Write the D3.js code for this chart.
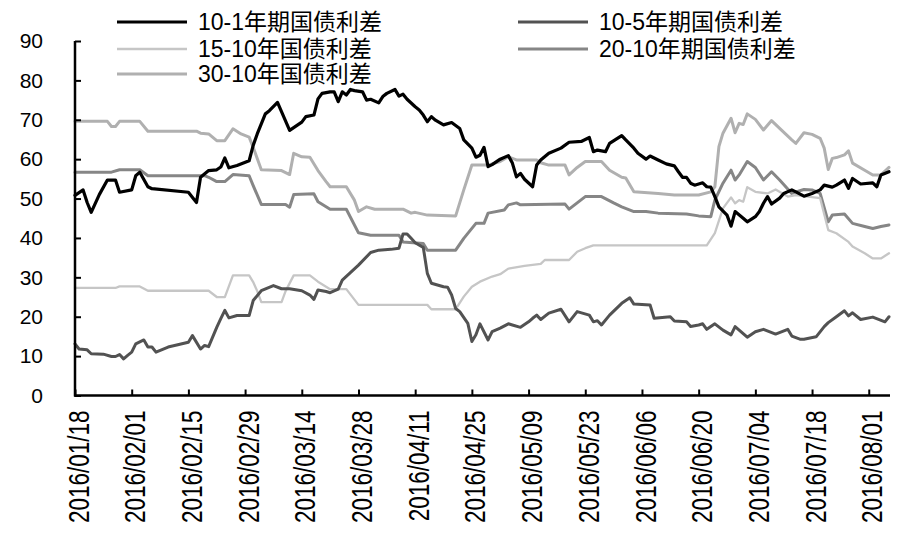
<!DOCTYPE html>
<html><head><meta charset="utf-8">
<script src="https://cdn.jsdelivr.net/npm/d3@7"></script>
<style>body{margin:0;background:#fff}svg{display:block}</style>
</head><body>
<svg id="c" width="900" height="537"></svg>
<script>
// ---- data ----
const seriesNames = ["10-1年期国债利差","10-5年期国债利差","15-10年国债利差","20-10年期国债利差","30-10年国债利差"];
const yTicks = [0,10,20,30,40,50,60,70,80,90];
const xTickDates = ["01-18","02-01","02-15","02-29","03-14","03-28","04-11","04-25","05-09","05-23","06-06","06-20","07-04","07-18","08-01"];

const s10_1 = [["01-18",50.8],["01-20",52.2],["01-21",49],["01-22",46.5],["01-24",51],["01-26",54.7],["01-28",54.7],["01-29",51.6],
["02-01",52.2],["02-02",55.8],["02-03",56.7],["02-05",53],["02-06",52.5],["02-15",51.6],["02-17",49],["02-18",55.4],["02-20",57.1],
["02-22",57.3],["02-23",58],["02-24",60.3],["02-25",57.8],["02-27",58.4],["03-01",59.6],["03-02",63.5],["03-03",66.4],["03-05",71.5],
["03-06",72.3],["03-08",74.4],["03-11",67.3],["03-12",68],["03-14",69.4],["03-15",70.8],["03-17",71.2],["03-18",75.3],["03-19",76.7],
["03-21",77.1],["03-22",77.1],["03-23",74.6],["03-24",77.1],["03-25",76.3],["03-26",77.7],["03-27",77.4],["03-29",77.1],["03-30",75],
["03-31",75.2],["04-02",74.3],["04-03",75.9],["04-04",76.7],["04-06",77.7],["04-07",76],["04-08",76.5],["04-09",75.2],["04-11",73.3],
["04-12",72.5],["04-13",71.2],["04-14",69.5],["04-15",70.8],["04-16",69.9],["04-18",68.7],["04-20",69.3],["04-22",67.8],["04-23",64.9],
["04-25",62.8],["04-26",60.5],["04-27",61],["04-28",63],["04-29",58.1],["04-30",58.6],["05-02",60],["05-04",60.9],["05-05",59],
["05-06",55.5],["05-07",56.4],["05-08",54.9],["05-10",53],["05-11",58.5],["05-12",59.8],["05-14",61.5],["05-17",62.8],["05-19",64.3],
["05-22",64.5],["05-24",65.5],["05-25",61.9],["05-26",62.3],["05-28",61.9],["05-29",64],["06-01",66],["06-02",64.9],["06-04",62.8],
["06-05",61.5],["06-07",60],["06-08",60.8],["06-10",59.8],["06-12",58.8],["06-14",58.3],["06-15",56.8],["06-16",55.4],["06-17",55.4],
["06-18",53.9],["06-19",53.4],["06-21",54],["06-22",53],["06-23",52.9],["06-24",50.5],["06-25",47.9],["06-27",45.8],["06-28",43],
["06-29",46.7],["07-01",45],["07-02",44.1],["07-04",45.4],["07-05",46.7],["07-06",48.8],["07-07",50.5],["07-08",48.6],["07-10",50.1],
["07-11",51.3],["07-13",52.2],["07-14",51.7],["07-16",50.6],["07-18",51.3],["07-20",52.2],["07-21",53.4],["07-23",52.9],["07-24",53.4],
["07-26",54.7],["07-27",52.6],["07-28",55.1],["07-30",53.7],["08-02",54],["08-03",53],["08-04",56],["08-06",56.8]];

const s10_5 = [["01-18",13.1],["01-19",11.8],["01-21",11.6],["01-22",10.6],["01-25",10.5],["01-27",9.9],["01-28",9.9],["01-29",10.4],
["01-30",9.3],["01-31",10.2],["02-01",11],["02-02",13.1],["02-04",14.1],["02-05",12.3],["02-06",12.3],["02-07",11],["02-10",12.3],
["02-15",13.5],["02-16",15.2],["02-18",11.8],["02-19",12.7],["02-20",12.4],["02-22",17.3],["02-23",19.5],["02-24",21.6],["02-25",19.7],
["02-27",20.3],["03-01",20.3],["03-02",24.1],["03-04",26.6],["03-07",27.9],["03-09",27.1],["03-11",27.1],["03-14",26.6],["03-16",25.5],
["03-17",24.4],["03-18",26.8],["03-20",26.4],["03-21",26.1],["03-23",27],["03-24",29.3],["03-26",31.2],["03-28",33.1],["03-31",36.3],
["04-02",36.9],["04-05",37.1],["04-07",37.4],["04-08",41],["04-09",41],["04-10",39.9],["04-11",38.8],["04-13",37.6],["04-14",31],
["04-15",28.5],["04-18",27.6],["04-19",27.5],["04-20",25.5],["04-21",22.1],["04-22",21.3],["04-24",18.3],["04-25",13.7],["04-26",15.4],
["04-27",18.2],["04-29",14.1],["04-30",16.2],["05-02",17.1],["05-04",18.2],["05-05",17.9],["05-07",17.3],["05-09",18.7],["05-10",19.6],
["05-11",20.4],["05-12",19.3],["05-14",20.9],["05-17",21.9],["05-19",18.7],["05-21",21.3],["05-24",20.4],["05-25",18.7],["05-26",19],
["05-27",17.9],["05-29",20.4],["06-01",23.4],["06-03",24.8],["06-04",23.2],["06-08",23],["06-09",19.6],["06-13",20],["06-14",18.9],
["06-17",18.7],["06-18",17.5],["06-20",17.9],["06-21",18.2],["06-22",16.8],["06-24",18.2],["06-26",16.6],["06-28",15.4],["06-29",17.5],
["07-02",14.8],["07-04",16.2],["07-06",16.8],["07-09",15.6],["07-12",16.8],["07-13",15.1],["07-15",14.3],["07-16",14.3],["07-19",14.9],
["07-21",17.5],["07-22",18.5],["07-24",20],["07-26",21.5],["07-27",20.2],["07-28",21],["07-30",19.3],["08-02",19.9],["08-05",18.7],["08-06",20]];

const s15_10 = [["01-18",27.3],["01-28",27.3],["01-29",27.7],["02-03",27.7],["02-05",26.6],["02-20",26.6],["02-22",25],["02-24",25],
["02-26",30.5],["02-29",30.5],["03-01",30.5],["03-02",28.8],["03-03",26.5],["03-04",23.7],["03-09",23.7],["03-10",26.5],["03-12",30.5],
["03-16",30.5],["03-18",28.9],["03-21",27],["03-25",27],["03-28",23],["04-14",23],["04-15",21.9],["04-21",21.9],["04-23",25.1],
["04-25",27.6],["04-27",28.9],["04-30",30.2],["05-02",30.8],["05-04",32.2],["05-08",32.9],["05-12",33.4],["05-13",34.4],["05-19",34.4],
["05-21",36.5],["05-23",37.4],["05-25",38.1],["06-22",38.1],["06-24",41.2],["06-26",47.5],["06-28",50.3],["06-29",48.8],["06-30",49.6],
["07-01",49.2],["07-02",52.9],["07-04",51.7],["07-07",51.3],["07-09",52.3],["07-12",50.5],["07-14",50.9],["07-17",50.5],["07-20",50.1],
["07-22",42],["07-24",41.2],["07-27",39],["07-28",37.8],["07-31",36.1],["08-02",34.8],["08-04",34.8],["08-06",36.1]];

const s20_10 = [["01-18",56.7],["01-27",56.7],["01-29",57.3],["02-03",57.3],["02-05",55.8],["02-19",55.8],["02-20",55.4],["02-22",54.3],
["02-24",54.3],["02-26",56.1],["03-01",55.8],["03-02",53.3],["03-04",48.5],["03-10",48.5],["03-11",47.8],["03-12",51],["03-17",51.2],
["03-18",49.2],["03-21",47.3],["03-25",47.3],["03-28",41.3],["03-31",40.7],["04-07",40.7],["04-08",39],["04-13",38.6],["04-14",36.9],
["04-21",36.9],["04-23",39.9],["04-26",43.7],["04-28",43.7],["04-29",46.3],["05-03",47.1],["05-04",48.4],["05-06",48.9],["05-07",48.4],
["05-18",48.6],["05-19",47.3],["05-21",48.9],["05-23",50.5],["05-27",50.5],["05-30",48.9],["06-01",47.9],["06-04",46.7],["06-07",46.7],
["06-10",46.3],["06-17",46.1],["06-20",45.6],["06-23",45.4],["06-24",49.6],["06-26",53.9],["06-28",57.2],["06-29",54.7],["06-30",56],
["07-02",59.4],["07-04",57.9],["07-06",54.7],["07-08",56.8],["07-10",54.7],["07-13",51.3],["07-14",51.7],["07-16",52.3],["07-18",52.2],
["07-20",51.3],["07-22",44.1],["07-23",45.8],["07-26",46.1],["07-28",43.7],["07-31",42.9],["08-02",42.4],["08-04",42.9],["08-06",43.3]];

const s30_10 = [["01-18",69.6],["01-26",69.6],["01-27",68.3],["01-28",68.3],["01-29",69.6],["02-03",69.6],["02-05",67.1],["02-17",67.1],
["02-18",66.6],["02-20",66.4],["02-22",64.7],["02-24",64.7],["02-26",67.7],["02-28",66.4],["03-01",65.6],["03-02",63],["03-04",57.3],
["03-09",57.1],["03-11",56.1],["03-12",61.5],["03-14",60.6],["03-16",60.5],["03-18",57.1],["03-20",54.3],["03-21",53],["03-25",53],
["03-27",49.6],["03-28",46.7],["03-30",47.9],["04-01",47.3],["04-08",47.3],["04-10",46.3],["04-11",46.5],["04-14",45.8],["04-21",45.6],
["04-23",52.2],["04-25",58.5],["04-29",58.5],["05-02",59.4],["05-04",60.6],["05-06",59.8],["05-11",59.8],["05-12",59.1],["05-14",58.5],
["05-18",58.5],["05-19",56],["05-21",57.9],["05-23",59.4],["05-27",59.4],["05-29",57.2],["06-01",55.4],["06-02",55.2],["06-04",51.7],
["06-10",51.3],["06-14",50.9],["06-20",50.9],["06-23",51.7],["06-24",53],["06-25",63.2],["06-26",66.6],["06-28",70.4],["06-29",66.7],
["06-30",69.1],["07-01",68.8],["07-02",71.5],["07-04",70.1],["07-06",67.4],["07-08",69.8],["07-10",67.8],["07-13",64.9],["07-14",64],
["07-16",66.7],["07-18",66.3],["07-20",65.3],["07-21",62.8],["07-22",57.4],["07-23",60.2],["07-24",60.4],["07-26",61.1],["07-27",62.1],
["07-28",59],["07-31",57.2],["08-02",56],["08-04",56],["08-06",57.9]];

const seriesData = [s10_1, s10_5, s15_10, s20_10, s30_10];
const colors = ["#000000","#525252","#c6c6c6","#868686","#b0b0b0"];
const widths = [3.2, 3, 2.3, 3, 3];

// ---- drawing ----
const parse = s => d3.timeParse("%Y-%m-%d")("2016-" + s);
const svg = d3.select("#c");
const font = "'Liberation Sans', Arial, 'Noto Sans CJK SC', sans-serif";

const x = d3.scaleTime().domain([parse("01-18"), parse("08-06")]).range([75, 889]);
const y = d3.scaleLinear().domain([0, 90]).range([395.5, 41]);

const line = d3.line().x(d => x(parse(d[0]))).y(d => y(d[1])).curve(d3.curveLinear);

// draw lines (black on top)
[4,3,2,1,0].forEach(i => {
  svg.append("path").datum(seriesData[i])
    .attr("d", line).attr("fill","none")
    .attr("stroke", colors[i]).attr("stroke-width", widths[i])
    .attr("stroke-linejoin","round").attr("stroke-linecap","round");
});

// y axis
const yAxis = d3.axisRight(y).tickValues(yTicks).tickSize(6).tickFormat(d3.format("d"));
const gy = svg.append("g").attr("transform","translate(75,0)").call(yAxis);
gy.select(".domain").attr("stroke","#000").attr("stroke-width",2.5).attr("d","M0,41V396.5");
gy.selectAll(".tick line").attr("stroke","#000").attr("stroke-width",2);
gy.selectAll(".tick text").attr("x",-32).attr("text-anchor","end")
  .attr("font-family",font).attr("font-size",21).attr("fill","#000");

// x axis
const xAxis = d3.axisTop(x).tickValues(xTickDates.map(parse)).tickSize(6).tickFormat(d3.timeFormat("%Y/%m/%d"));
const gx = svg.append("g").attr("transform","translate(0,395.5)").call(xAxis);
gx.select(".domain").attr("stroke","#000").attr("stroke-width",2.5).attr("d","M74,0H890");
gx.selectAll(".tick line").attr("stroke","#000").attr("stroke-width",2);
gx.selectAll(".tick text")
  .attr("transform","rotate(-90) scale(1,1.27)")
  .attr("x",-15).attr("y",0).attr("dy","10.3px")
  .attr("text-anchor","end")
  .attr("font-family",font).attr("font-size",22.5).attr("fill","#000");

// legend
const legendPos = [[117,22],[518,22],[117,49],[518,49],[117,74]];
legendPos.forEach((p,i) => {
  const g = svg.append("g").attr("transform",`translate(${p[0]},${p[1]})`);
  g.append("line").attr("x1",0).attr("x2",70).attr("y1",0).attr("y2",0)
    .attr("stroke",colors[i]).attr("stroke-width",widths[i]);
  g.append("text").attr("x",81).attr("y",0).attr("dy","0.36em")
    .attr("font-family",font).attr("font-size",23).attr("fill","#000").text(seriesNames[i]);
});
</script>
</body></html>
